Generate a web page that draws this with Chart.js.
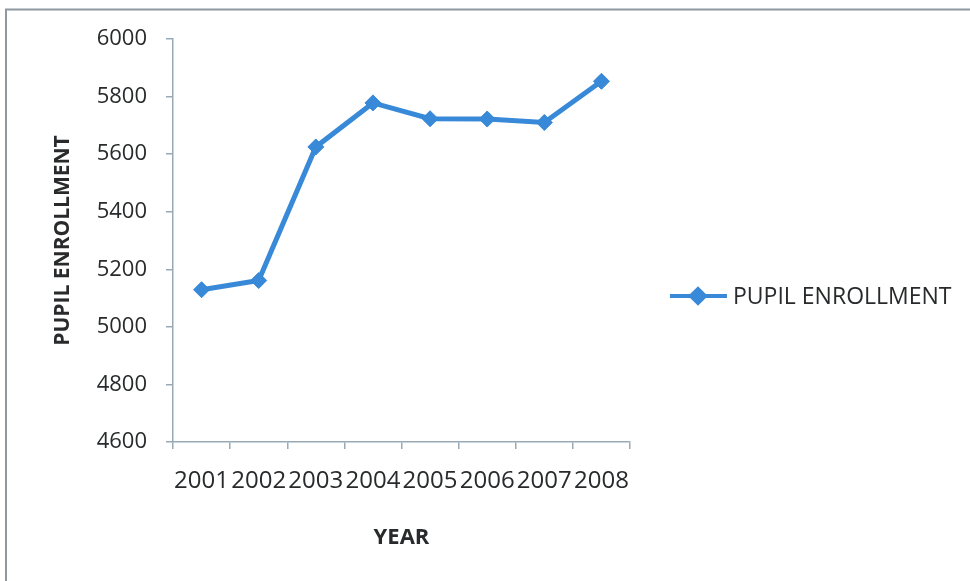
<!DOCTYPE html>
<html>
<head>
<meta charset="utf-8">
<script src="https://cdn.jsdelivr.net/npm/chart.js@4/dist/chart.umd.min.js"></script>
<style>
html,body{margin:0;padding:0;background:#fff;}
#wrap{width:970px;height:581px;position:relative;background:#fff;}
canvas{display:block;}
</style>
</head>
<body>
<div id="wrap"><canvas id="c" width="970" height="581"></canvas></div>
<script>
// ---- data ----
const years = ['2001', '2002', '2003', '2004', '2005', '2006', '2007', '2008'];
const enrollment = [5129, 5161, 5625, 5778, 5723, 5722, 5710, 5853];
const seriesLabel = 'PUPIL ENROLLMENT';
const xTitle = 'YEAR';
const yTitle = 'PUPIL ENROLLMENT';
const yMin = 4600;
const yMax = 6000;
const yStep = 200;

// ---- styling ----
const LINE = '#3889d8';
const TEXT = '#282a2b';
const AXIS = '#98aab6';
const FONT = "'Open Sans', 'DejaVu Sans', sans-serif";

const framePlugin = {
  id: 'frame',
  beforeDraw(chart) {
    const ctx = chart.ctx;
    ctx.save();
    ctx.fillStyle = '#fff';
    ctx.fillRect(0, 0, chart.width, chart.height);
    ctx.strokeStyle = '#8d989f';
    ctx.lineWidth = 2;
    ctx.beginPath();
    ctx.moveTo(6, chart.height);
    ctx.lineTo(6, 9.5);
    ctx.lineTo(chart.width, 9.5);
    ctx.stroke();
    ctx.restore();
  }
};

const legendPlugin = {
  id: 'sideLegend',
  afterDraw(chart) {
    const ds = chart.data.datasets[0];
    const ctx = chart.ctx;
    const y = 296;
    ctx.save();
    ctx.strokeStyle = ds.borderColor;
    ctx.lineWidth = 4;
    ctx.beginPath();
    ctx.moveTo(670, y);
    ctx.lineTo(727, y);
    ctx.stroke();
    Chart.helpers.drawPoint(ctx, {pointStyle: 'rectRot', radius: 7, rotation: 0, borderWidth: 1}, 698, y);
    ctx.fillStyle = ds.backgroundColor;
    ctx.fill();
    ctx.fillStyle = TEXT;
    ctx.font = "23px " + FONT;
    ctx.textAlign = 'left';
    ctx.textBaseline = 'middle';
    ctx.fillText(ds.label, 733, y + 1);
    ctx.restore();
  }
};

new Chart(document.getElementById('c'), {
  type: 'line',
  data: {
    labels: years,
    datasets: [{
      label: seriesLabel,
      data: enrollment,
      borderColor: LINE,
      backgroundColor: LINE,
      borderWidth: 5,
      pointStyle: 'rectRot',
      pointRadius: 8,
      pointBorderWidth: 1,
      pointBackgroundColor: LINE,
      pointBorderColor: LINE,
      tension: 0,
      fill: false
    }]
  },
  options: {
    responsive: false,
    animation: false,
    devicePixelRatio: 1,
    layout: { padding: { left: 46, right: 340, top: 39, bottom: 27 } },
    plugins: {
      legend: { display: false },
      tooltip: { enabled: false }
    },
    scales: {
      x: {
        type: 'category',
        offset: true,
        grid: { offset: true, drawOnChartArea: false, drawTicks: true, tickLength: 7, color: AXIS, lineWidth: 1.5 },
        border: { color: AXIS, width: 1.5 },
        ticks: { color: TEXT, font: { family: FONT, size: 24 }, padding: 18, autoSkip: false, maxRotation: 0, minRotation: 0 },
        title: { display: true, text: xTitle, color: TEXT, font: { family: FONT, size: 22, weight: 'bold' }, padding: { top: 0, bottom: 3 } },
        afterFit(s) { s.height = 112; }
      },
      y: {
        min: yMin,
        max: yMax,
        grid: { drawOnChartArea: false, drawTicks: true, tickLength: 7, color: AXIS, lineWidth: 1.5 },
        border: { color: AXIS, width: 1.5 },
        ticks: { stepSize: yStep, color: TEXT, font: { family: FONT, size: 22 }, padding: 19, callback: v => String(v) },
        title: { display: true, text: yTitle, color: TEXT, font: { family: FONT, size: 21, weight: 'bold' }, padding: { top: 4, bottom: 0 } },
        afterFit(s) { s.width = 173 - 46; }
      }
    }
  },
  plugins: [framePlugin, legendPlugin]
});
</script>
</body>
</html>
